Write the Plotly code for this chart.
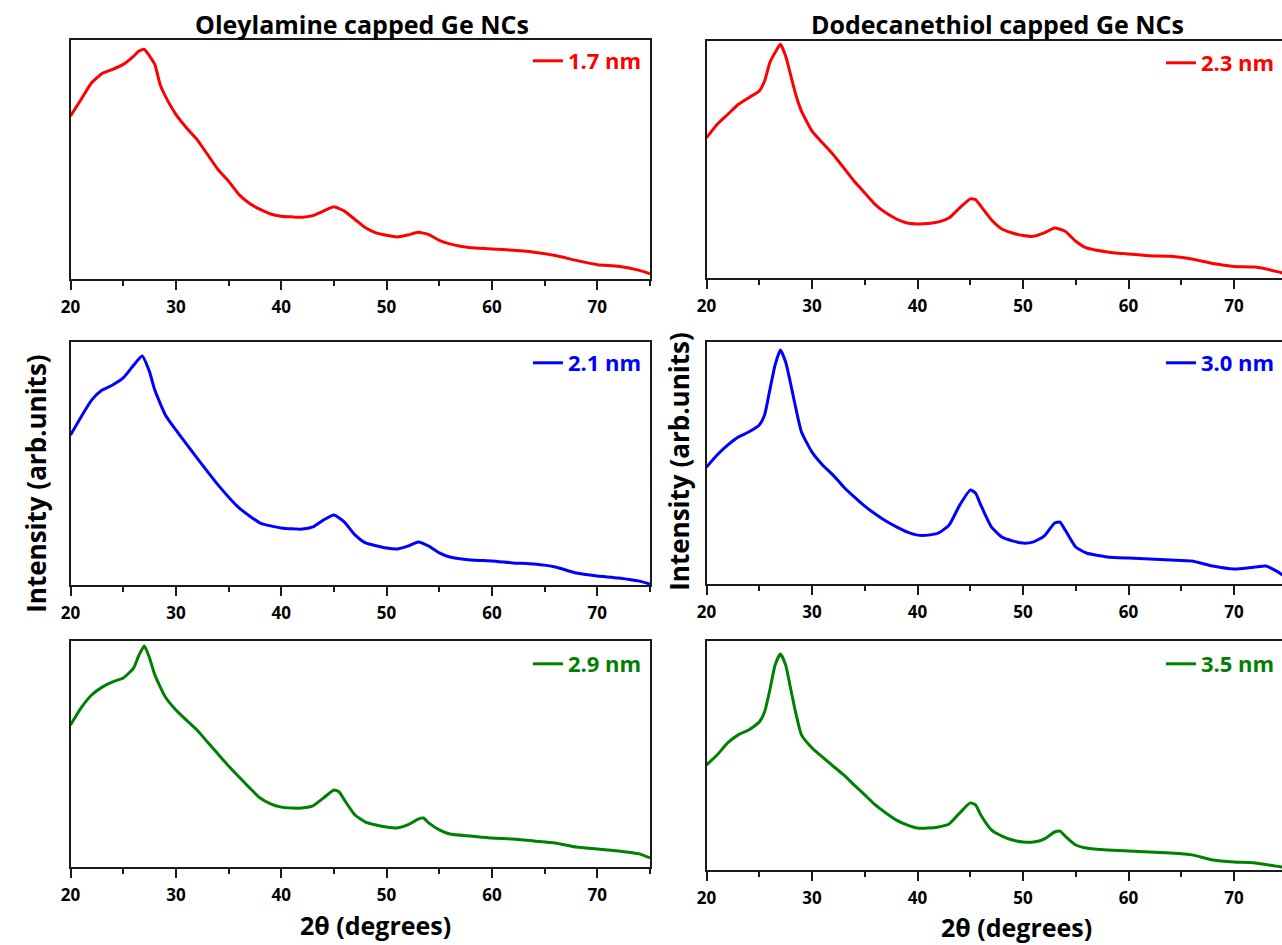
import plotly.graph_objects as go

# ---------------- data ----------------
two_theta_ole_17 = [20, 21, 22, 23, 24, 25, 26, 26.5, 27, 27.5, 28, 28.5, 29, 30, 31, 32, 33, 34, 35, 36, 37, 38, 39, 40,
                    41, 42, 43, 44, 45, 46, 47, 48, 49, 50, 51, 52, 53, 54, 55, 56, 57, 58, 60, 62, 64, 66, 68, 70, 72, 74, 75]
int_ole_17 = [682, 751, 821, 860, 877, 898, 933, 954, 961, 933, 898, 814, 765, 689, 633, 584, 521, 458, 409, 353, 316, 291, 272, 263,
              260, 258, 265, 284, 302, 284, 249, 214, 193, 183, 176, 184, 196, 186, 162, 147, 137, 131, 126, 120, 112, 98, 78, 60, 53, 36, 22]

two_theta_ddt_23 = [20, 21, 22, 23, 24, 25, 25.5, 26, 26.5, 27, 27.5, 28, 28.5, 29, 30, 31, 32, 33, 34, 35, 36, 37, 38, 39, 40,
                    41, 42, 43, 44, 45, 45.5, 46, 47, 48, 49, 50, 51, 52, 53, 54, 55, 56, 57, 58, 60, 62, 64, 66, 68, 70, 72, 74, 74.6]
int_ddt_23 = [592, 648, 690, 732, 761, 789, 831, 908, 951, 986, 937, 852, 768, 704, 620, 570, 521, 465, 408, 359, 310, 275, 249, 232, 228,
              230, 237, 254, 296, 334, 331, 303, 246, 207, 190, 179, 176, 190, 211, 197, 155, 127, 117, 110, 101, 94, 92, 80, 61, 49, 46, 28, 21]

two_theta_ole_21 = [20, 22, 23, 24, 25, 26, 26.8, 27.5, 28, 29, 30, 32, 34, 36, 38, 40, 42, 43, 44, 45, 46, 47, 48, 50,
                    51, 52, 53, 54, 55, 56, 58, 60, 62, 64, 66, 68, 70, 72, 74, 75]
int_ole_21 = [617, 761, 802, 823, 852, 905, 942, 877, 802, 700, 638, 523, 412, 317, 255, 235, 230, 239, 267, 288, 259, 206, 173, 152,
              148, 160, 177, 160, 132, 115, 103, 99, 91, 86, 74, 49, 37, 29, 16, 4]

two_theta_ddt_30 = [20, 21, 22, 23, 24, 25, 25.5, 26, 26.5, 27, 27.5, 28, 28.3, 29, 30, 31, 32, 33, 34, 35, 36, 37, 38, 39, 40,
                    41, 42, 43, 44, 45, 45.5, 46, 47, 48, 49, 50, 51, 52, 53, 53.5, 54, 55, 56, 58, 60, 62, 64, 66, 68, 70, 72, 73, 74, 74.6]
int_ddt_30 = [483, 533, 574, 607, 628, 657, 698, 802, 905, 967, 917, 822, 760, 628, 545, 492, 450, 401, 360, 322, 289, 260, 236, 215, 202,
              202, 211, 244, 326, 388, 376, 326, 236, 194, 178, 169, 174, 198, 252, 256, 223, 153, 128, 112, 107, 103, 99, 95, 74, 62, 70, 74, 54, 37]

two_theta_ole_29 = [20, 21, 22, 23, 24, 25, 26, 26.5, 27, 27.5, 28, 29, 30, 31, 32, 33, 34, 35, 36, 37, 38, 39, 40,
                    41, 42, 43, 44, 45, 45.5, 46, 47, 48, 49, 50, 51, 52, 53, 53.5, 54, 55, 56, 58, 60, 62, 64, 66, 68, 70, 72, 74, 75]
int_ole_29 = [628, 704, 761, 796, 819, 836, 881, 938, 978, 925, 850, 752, 695, 650, 606, 553, 500, 447, 398, 350, 305, 279, 265,
              261, 261, 270, 305, 341, 332, 296, 230, 199, 186, 177, 173, 186, 212, 217, 195, 164, 146, 137, 128, 124, 115, 106, 88, 80, 71, 58, 40]

two_theta_ddt_35 = [20, 21, 22, 23, 24, 25, 25.5, 26, 26.5, 27, 27.5, 28, 28.5, 29, 30, 31, 32, 33, 34, 35, 36, 37, 38, 39, 40,
                    41, 42, 43, 44, 45, 45.5, 46, 47, 48, 49, 50, 51, 52, 53, 53.5, 54, 55, 56, 58, 60, 62, 64, 66, 68, 70, 72, 74, 74.6]
int_ddt_35 = [459, 502, 555, 590, 611, 646, 690, 786, 895, 943, 895, 786, 677, 590, 533, 493, 454, 415, 371, 328, 284, 249, 218, 197, 183,
              183, 188, 201, 249, 293, 284, 240, 175, 148, 131, 122, 122, 135, 166, 170, 148, 109, 96, 87, 83, 79, 74, 66, 44, 35, 31, 17, 13]

series_x = [two_theta_ole_17, two_theta_ddt_23, two_theta_ole_21, two_theta_ddt_30, two_theta_ole_29, two_theta_ddt_35]
series_y = [int_ole_17, int_ddt_23, int_ole_21, int_ddt_30, int_ole_29, int_ddt_35]
series_names = ["1.7 nm", "2.3 nm", "2.1 nm", "3.0 nm", "2.9 nm", "3.5 nm"]
series_colors = ["#FF0000", "#FF0000", "#0000FF", "#0000FF", "#008000", "#008000"]

column_titles = ["Oleylamine capped Ge NCs", "Dodecanethiol capped Ge NCs"]
x_title = "2θ (degrees)"
y_title = "Intensity (arb.units)"
x_tick_vals = [20, 30, 40, 50, 60, 70]
x_tick_text = ["20", "30", "40", "50", "60", "70"]

# ---------------- layout geometry ----------------
W, H = 1282, 945
FONT = "'Open Sans', 'DejaVu Sans', sans-serif"

col_px = [(61, 645), (702, 1282)]
x_ranges = [[20, 75], [20, 74.55]]
row_px = [[(40, 279), (41, 278)], [(342, 585), (342, 584)], [(641, 867), (641, 870)]]
legend_y_px = [[61, 63], [363, 363], [664, 664]]

fig = go.Figure()
layout = dict(
    width=W, height=H, margin=dict(l=0, r=0, t=0, b=0),
    paper_bgcolor="white", plot_bgcolor="white", showlegend=True,
    font=dict(family=FONT, color="black"),
)

for i in range(6):
    r, c = divmod(i, 2)
    n = "" if i == 0 else str(i + 1)
    xa, ya = "x" + n, "y" + n
    leg = "legend" + n
    fig.add_trace(go.Scatter(
        x=series_x[i], y=series_y[i], mode="lines", name=series_names[i],
        line=dict(color=series_colors[i], width=3, shape="spline", smoothing=0.5),
        xaxis=xa, yaxis=ya, legend=leg,
    ))
    x0, x1 = col_px[c]
    y0, y1 = row_px[r][c]
    layout["xaxis" + n] = dict(
        domain=[x0 / W, x1 / W], range=x_ranges[c], anchor=ya,
        showline=True, linecolor="#1a1a1a", linewidth=2, mirror=True,
        ticks="outside", ticklen=9, tickwidth=2, tickcolor="#1a1a1a",
        tickvals=x_tick_vals, ticktext=x_tick_text, ticklabelstandoff=3,
        minor=dict(ticks="outside", ticklen=5, tickwidth=2, tickcolor="#1a1a1a", dtick=5, tick0=20),
        tickfont=dict(family=FONT, size=17, color="black", weight="bold"),
        showgrid=False, zeroline=False, fixedrange=True,
    )
    layout["yaxis" + n] = dict(
        domain=[1 - y1 / H, 1 - y0 / H], range=[0, 1000], anchor=xa,
        showline=True, linecolor="#1a1a1a", linewidth=2, mirror=(c == 0),
        showticklabels=False, ticks="", showgrid=False, zeroline=False, fixedrange=True,
    )
    lx = 522 if c == 0 else 1160
    layout[leg] = dict(
        x=lx / W, y=1 - legend_y_px[r][c] / H, xanchor="left", yanchor="middle",
        bgcolor="rgba(0,0,0,0)", borderwidth=0,
        font=dict(family=FONT, size=22, color=series_colors[i], weight="bold"),
    )

annotations = []
for c, t in enumerate(column_titles):
    annotations.append(dict(text=t, x=[355, 995][c] / W, y=1 - 24 / H, xref="paper", yref="paper",
                            showarrow=False, xanchor="center", yanchor="middle",
                            font=dict(family=FONT, size=25, color="black", weight="bold")))
    annotations.append(dict(text=x_title, x=[368, 1014][c] / W, y=1 - [925, 927][c] / H, xref="paper", yref="paper",
                            showarrow=False, xanchor="center", yanchor="middle",
                            font=dict(family=FONT, size=25, color="black", weight="bold")))
    annotations.append(dict(text=y_title, x=[26, 674][c] / W, y=1 - [484, 462][c] / H, xref="paper", yref="paper",
                            showarrow=False, xanchor="center", yanchor="middle", textangle=-90,
                            font=dict(family=FONT, size=26, color="black", weight="bold")))
layout["annotations"] = annotations

fig.update_layout(**layout)
fig.write_html("out.html")
